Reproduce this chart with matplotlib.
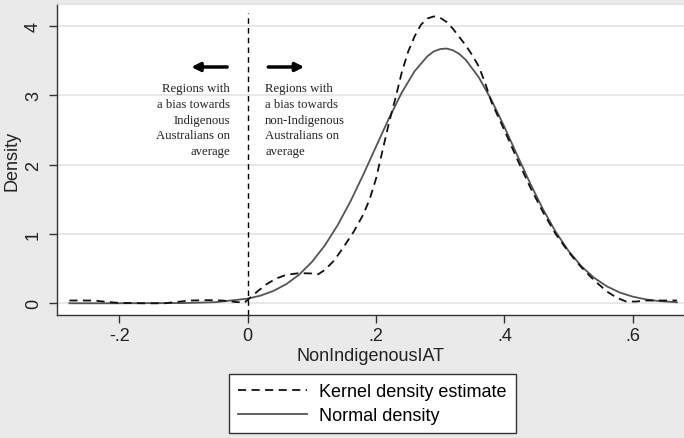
import matplotlib
matplotlib.use("Agg")
import matplotlib.pyplot as plt

# kernel density estimate
kde_x = [-0.278, -0.24, -0.22, -0.20, -0.16, -0.13, -0.11, -0.09, -0.06, -0.04,
         -0.02, -0.005, 0.0, 0.015, 0.03, 0.045, 0.06, 0.08, 0.10, 0.11,
         0.12, 0.135, 0.15, 0.165, 0.18, 0.19, 0.20, 0.21, 0.22, 0.23,
         0.24, 0.25, 0.26, 0.27, 0.28, 0.29, 0.30, 0.31, 0.32, 0.33,
         0.34, 0.35, 0.36, 0.37, 0.38, 0.40, 0.42, 0.44, 0.46, 0.48,
         0.50, 0.52, 0.54, 0.56, 0.575, 0.59, 0.605, 0.62, 0.669]
kde_y = [0.04, 0.04, 0.02, 0.005, 0.0, 0.0, 0.02, 0.04, 0.045, 0.04,
         0.02, 0.01, 0.05, 0.17, 0.28, 0.36, 0.41, 0.435, 0.43, 0.42,
         0.48, 0.62, 0.82, 1.03, 1.28, 1.5, 1.8, 2.2, 2.6, 2.95,
         3.33, 3.63, 3.85, 4.02, 4.11, 4.14, 4.12, 4.06, 3.96, 3.84,
         3.72, 3.58, 3.42, 3.18, 2.9, 2.5, 2.08, 1.68, 1.32, 1.0,
         0.74, 0.52, 0.33, 0.17, 0.08, 0.025, 0.025, 0.04, 0.04]

# normal density
norm_x = [-0.278, -0.2, -0.1, -0.05, 0.0, 0.02, 0.04, 0.06, 0.08, 0.10,
          0.12, 0.14, 0.16, 0.18, 0.20, 0.22, 0.24, 0.26, 0.28, 0.29, 0.30,
          0.31, 0.32, 0.33, 0.34, 0.36, 0.38, 0.40, 0.42, 0.44, 0.46, 0.48, 0.50,
          0.52, 0.54, 0.56, 0.58, 0.60, 0.62, 0.64, 0.669]
norm_y = [0.0, 0.0, 0.003, 0.016, 0.067, 0.111, 0.178, 0.276, 0.412, 0.596,
          0.833, 1.125, 1.468, 1.854, 2.262, 2.666, 3.039, 3.348, 3.565, 3.635, 3.669,
          3.676, 3.651, 3.596, 3.511, 3.263, 2.932, 2.547, 2.137, 1.735, 1.361, 1.031, 0.756,
          0.535, 0.367, 0.243, 0.155, 0.096, 0.057, 0.033, 0.014]

xticks = [-0.2, 0, 0.2, 0.4, 0.6]
xtick_labels = ["-.2", "0", ".2", ".4", ".6"]
yticks = [0, 1, 2, 3, 4]

left_note = "Regions with\na bias towards\nIndigenous\nAustralians on\naverage"
right_note = "Regions with\na bias towards\nnon-Indigenous\nAustralians on\naverage"

plt.rcParams["font.family"] = ["Liberation Sans", "DejaVu Sans"]

bg = "#eaeaea"
fig = plt.figure(figsize=(6.84, 4.39), dpi=100, facecolor=bg)
ax = fig.add_axes([0.0838, 0.2802, 1.0 - 0.0838, 0.9886 - 0.2802])
ax.set_facecolor("white")

for y in yticks:
    ax.axhline(y, color="#e2e2e2", linewidth=1.1, zorder=0)

ax.axvline(0, ymax=0.97, color="black", linestyle=(0, (4, 3)), linewidth=1.0,
           zorder=1)

ax.plot(kde_x, kde_y, color="#111111", linestyle=(0, (4.5, 3)), linewidth=1.3,
        label="Kernel density estimate", zorder=3)
ax.plot(norm_x, norm_y, color="#555555", linewidth=1.3,
        label="Normal density", zorder=2)

ax.set_xlim(-0.2968, 0.680)
ax.set_ylim(-0.169, 4.319)

ax.set_xticks(xticks)
ax.set_xticklabels(xtick_labels)
ax.set_yticks(yticks)
ax.set_yticklabels([str(v) for v in yticks], rotation=90, va="center")
ax.tick_params(axis="both", direction="out", length=6, width=1.0,
               color="#333333", labelsize=13, labelcolor="#222222")
ax.tick_params(axis="x", pad=3)
ax.tick_params(axis="y", pad=5)

for s in ["left", "bottom"]:
    ax.spines[s].set_color("#333333")
    ax.spines[s].set_linewidth(1.0)
ax.spines["right"].set_visible(False)
ax.spines["top"].set_color("#e2e2e2")
ax.spines["top"].set_linewidth(1.1)

ax.set_xlabel("NonIndigenousIAT", fontsize=13, color="#222222", labelpad=2)
ax.set_ylabel("Density", fontsize=13, color="#222222", labelpad=3)

# arrows and notes
ax.annotate("", xy=(-0.088, 3.41), xytext=(-0.032, 3.41),
            arrowprops=dict(arrowstyle="-|>,head_length=0.5,head_width=0.25",
                            color="black", linewidth=2.5, shrinkA=0, shrinkB=0))
ax.annotate("", xy=(0.088, 3.41), xytext=(0.032, 3.41),
            arrowprops=dict(arrowstyle="-|>,head_length=0.5,head_width=0.25",
                            color="black", linewidth=2.5, shrinkA=0, shrinkB=0))
ax.text(-0.028, 3.19, left_note, ha="right", va="top", fontsize=9.2,
        family="Liberation Serif", linespacing=1.41, color="#222222")
ax.text(0.027, 3.19, right_note, ha="left", va="top", fontsize=9.2,
        family="Liberation Serif", linespacing=1.41, color="#222222")

leg = fig.legend(loc="center", bbox_to_anchor=(0.5446, 0.0786), fontsize=13,
                 frameon=True, fancybox=False, edgecolor="#333333",
                 facecolor="white", framealpha=1, handlelength=3.8,
                 handletextpad=0.7, borderpad=0.5, labelspacing=0.38,
                 borderaxespad=0)
leg.get_frame().set_linewidth(1.0)

fig.savefig("out.png", dpi=100, facecolor=bg)
